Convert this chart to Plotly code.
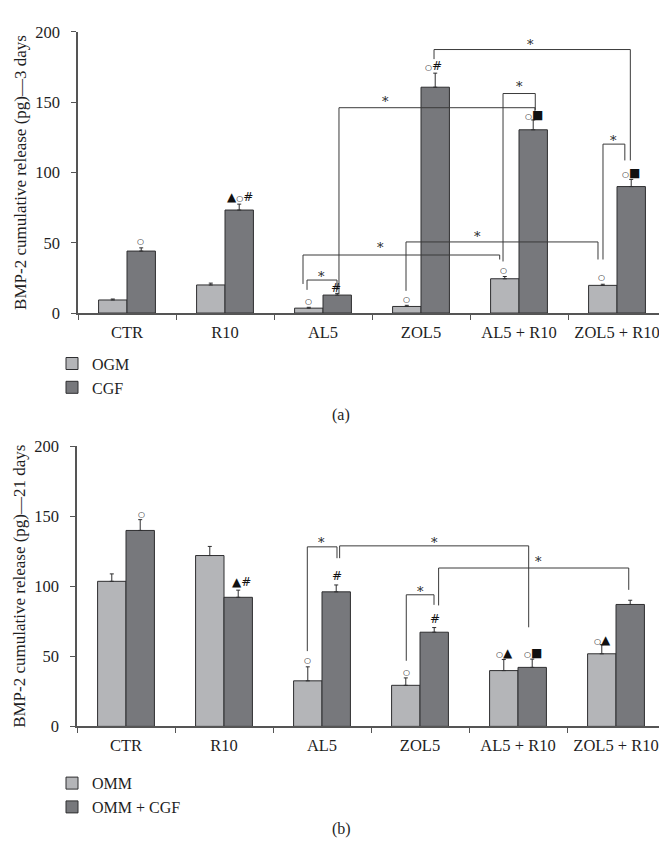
import plotly.graph_objects as go

# ---------------- data ----------------
categories = ["CTR", "R10", "AL5", "ZOL5", "AL5 + R10", "ZOL5 + R10"]

# (a) 3 days
ogm_3d = [9.3, 20.0, 3.5, 4.7, 24.4, 19.7]
ogm_3d_err = [0.7, 1.3, 0.6, 0.8, 1.6, 0.8]
cgf_3d = [44.1, 73.3, 12.8, 160.7, 130.4, 90.0]
cgf_3d_err = [2.3, 4.2, 1.2, 10.0, 7.0, 5.1]

# (b) 21 days
omm_21d = [103.5, 121.9, 32.5, 29.3, 39.8, 51.8]
omm_21d_err = [5.3, 6.5, 10.0, 5.3, 7.9, 6.5]
ommcgf_21d = [139.8, 92.1, 96.0, 67.2, 42.1, 87.0]
ommcgf_21d_err = [7.7, 5.1, 4.9, 3.3, 5.9, 3.0]

y_ticks = [0, 50, 100, 150, 200]

# significance labels: (category position, y value, text); "o" = small circle mark
labels_a = [
    (0.14, 50.6, "o"), (1.15, 82.6, "▲o#"), (1.85, 8.1, "o"), (2.13, 17.9, "#"),
    (2.85, 9.5, "o"), (3.13, 175.9, "o#"), (3.845, 30.4, "o"), (4.15, 141.0, "o■"),
    (4.84, 25.0, "o"), (5.14, 100.0, "o■"),
]
labels_b = [
    (0.155, 151.0, "o"), (1.18, 103.0, "▲#"), (1.855, 46.8, "o"), (2.15, 107.2, "#"),
    (2.86, 38.6, "o"), (3.15, 76.5, "#"), (3.86, 52.5, "o▲"), (4.15, 52.5, "o■"),
    (4.86, 61.8, "o▲"),
]
# brackets: (x_left, y_left_bottom, y_top, x_right, y_right_bottom, star_x, star_y)
brackets_a = [
    (3.133, 180.7, 187.5, 5.136, 108.6, 4.12, 193.2),
    (3.837, 36.7, 156.2, 4.166, 144.5, 4.00, 163.3),
    (4.857, 38.1, 120.2, 5.08, 108.6, 4.96, 125.0),
    (2.163, 13.7, 146.1, 4.163, 143.4, 2.64, 152.9),
    (1.796, 20.7, 41.3, 3.803, 38.1, 2.59, 48.5),
    (2.847, 15.8, 50.6, 4.806, 38.1, 3.58, 56.9),
    (1.837, 16.5, 23.5, 2.143, 16.5, 1.98, 28.3),
]
brackets_b = [
    (1.85, 53.7, 128.1, 2.153, 120.0, 1.993, 133.3),
    (2.18, 120.0, 128.8, 4.109, 70.7, 3.143, 133.3),
    (2.86, 46.8, 93.9, 3.143, 86.7, 3.00, 98.6),
    (3.19, 86.3, 113.0, 5.13, 97.4, 4.214, 120.0),
]

# ---------------- style ----------------
W, H = 667, 866
LIGHT = "#b4b5b8"
DARK = "#77787c"
EDGE = "#2e2e30"
AXIS = "#555555"
FONT = "Liberation Serif"
SYM = "DejaVu Sans"
TXT = "#1e1e1e"
CIRCLE = '<span style="font-size:8px">○</span>'


def fx(p):
    return p / W


def fy(p):
    return 1 - p / H


fig = go.Figure()


def add_bars(vals, errs, name, color, xa, ya, leg):
    fig.add_trace(go.Bar(
        x=categories, y=vals, name=name, xaxis=xa, yaxis=ya, legend=leg,
        marker=dict(color=color, line=dict(color=EDGE, width=1)),
        error_y=dict(type="data", array=errs, arrayminus=[0] * len(errs),
                     color=EDGE, thickness=1, width=2),
    ))


add_bars(ogm_3d, ogm_3d_err, "OGM", LIGHT, "x", "y", "legend")
add_bars(cgf_3d, cgf_3d_err, "CGF", DARK, "x", "y", "legend")
add_bars(omm_21d, omm_21d_err, "OMM", LIGHT, "x2", "y2", "legend2")
add_bars(ommcgf_21d, ommcgf_21d_err, "OMM + CGF", DARK, "x2", "y2", "legend2")

shapes = []
annotations = []


def add_brackets(brs, xr, yr):
    for (xl, yl, yt, xrr, yrb, sx, sy) in brs:
        for (a, b, c, d) in [(xl, yl, xl, yt), (xl, yt, xrr, yt), (xrr, yt, xrr, yrb)]:
            shapes.append(dict(type="line", xref=xr, yref=yr, x0=a, y0=b, x1=c, y1=d,
                               line=dict(color="#3a3a3a", width=1)))
        annotations.append(dict(x=sx, y=sy, xref=xr, yref=yr, text="*", showarrow=False,
                                font=dict(family="DejaVu Serif", size=13, color=TXT),
                                xanchor="center", yanchor="middle", yshift=-3))


def add_labels(lbls, xr, yr):
    for (x, y, t) in lbls:
        annotations.append(dict(x=x, y=y, xref=xr, yref=yr, text=t.replace("o", CIRCLE),
                                showarrow=False,
                                font=dict(family=SYM, size=12, color="#111"),
                                xanchor="center", yanchor="middle"))


add_brackets(brackets_a, "x", "y")
add_brackets(brackets_b, "x2", "y2")
add_labels(labels_a, "x", "y")
add_labels(labels_b, "x2", "y2")

annotations.append(dict(x=fx(333), y=fy(407), xref="paper", yref="paper", text="(a)",
                        showarrow=False, font=dict(family=FONT, size=16, color=TXT),
                        xanchor="center", yanchor="middle"))
annotations.append(dict(x=fx(333), y=fy(830), xref="paper", yref="paper", text="(b)",
                        showarrow=False, font=dict(family=FONT, size=16, color=TXT),
                        xanchor="center", yanchor="middle"))

xaxis_common = dict(
    type="category", range=[-0.5, 5.5], tickson="boundaries", ticks="outside",
    ticklen=5, tickcolor=AXIS, showline=True, linecolor=AXIS, linewidth=1.5,
    showgrid=False, zeroline=False, tickfont=dict(family=FONT, size=16.5, color=TXT),
    ticklabelstandoff=3,
)
yaxis_common = dict(
    range=[0, 200], tickvals=y_ticks, ticks="outside", ticklen=5, tickcolor=AXIS,
    showline=True, linecolor=AXIS, linewidth=1.5, showgrid=False, zeroline=False,
    tickfont=dict(family=FONT, size=16.5, color=TXT), ticklabelstandoff=8,
)

fig.update_layout(
    width=W, height=H, margin=dict(l=0, r=0, t=0, b=0),
    paper_bgcolor="white", plot_bgcolor="white",
    barmode="group", bargap=0.42, bargroupgap=0,
    showlegend=True,
    xaxis=dict(**xaxis_common, domain=[fx(70), fx(658)], anchor="y"),
    yaxis=dict(**yaxis_common, domain=[fy(302.7), fy(15.3)], anchor="x",
               title=dict(text="BMP-2 cumulative release (pg)—3 days",
                          font=dict(family=FONT, size=17, color=TXT), standoff=4)),
    xaxis2=dict(**xaxis_common, domain=[fx(69), fx(657)], anchor="y2"),
    yaxis2=dict(**yaxis_common, domain=[fy(725.3), fy(438.7)], anchor="x2",
                title=dict(text="BMP-2 cumulative release (pg)—21 days",
                           font=dict(family=FONT, size=17, color=TXT), standoff=4)),
    legend=dict(x=fx(44), y=fy(337), xanchor="left", yanchor="top",
                font=dict(family=FONT, size=16, color=TXT), bgcolor="rgba(0,0,0,0)",
                tracegroupgap=0, itemwidth=30),
    legend2=dict(x=fx(44), y=fy(766), xanchor="left", yanchor="top",
                 font=dict(family=FONT, size=16, color=TXT), bgcolor="rgba(0,0,0,0)",
                 tracegroupgap=0, itemwidth=30),
    shapes=shapes, annotations=annotations,
)

fig.write_html("out.html")
